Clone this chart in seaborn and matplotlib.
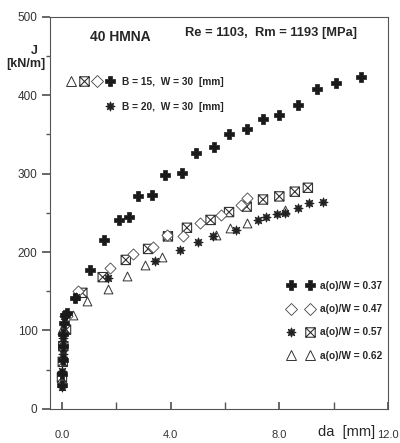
import matplotlib
matplotlib.use("Agg")
import matplotlib.pyplot as plt
from matplotlib.path import Path
from matplotlib.lines import Line2D
from matplotlib.legend_handler import HandlerTuple
import seaborn as sns
import pandas as pd

sns.set_theme(style="white")
plt.rcParams['font.family'] = ['Liberation Sans', 'DejaVu Sans']

# a(o)/W = 0.37, B = 15 (plus)
da_037 = [0.0, 0.02, 0.03, 0.04, 0.05, 0.06, 0.1, 0.2, 0.48, 1.03, 1.55, 2.1, 2.45, 2.8, 3.3, 3.8, 4.4, 4.95, 5.6, 6.15, 6.8, 7.4, 8.0, 8.7, 9.4, 10.1, 11.0]
J_037 = [30, 45, 62, 80, 95, 110, 120, 122, 142, 177, 216, 241, 245, 271, 273, 298, 301, 326, 334, 350, 357, 370, 375, 388, 408, 416, 423]

# a(o)/W = 0.47, B = 15 (diamond)
da_047 = [0.05, 0.2, 0.6, 1.76, 2.6, 3.35, 3.85, 4.45, 5.07, 5.85, 6.6, 6.8]
J_047 = [95, 118, 150, 180, 198, 207, 222, 221, 237, 247, 260, 269]

# a(o)/W = 0.57, B = 15 (boxed x)
da_057a = [0.0, 0.03, 0.05, 0.15, 0.75, 1.5, 2.35, 3.17, 3.9, 4.6, 5.47, 6.15, 6.8, 7.4, 8.0, 8.57, 9.05]
J_057a = [40, 60, 80, 101, 148, 168, 190, 204, 220, 231, 241, 251, 258, 267, 271, 277, 282]

# a(o)/W = 0.57, B = 20 (star)
da_057b = [0.0, 0.02, 0.03, 0.05, 0.08, 0.5, 1.7, 3.42, 4.34, 5.0, 5.55, 6.4, 7.2, 7.5, 7.9, 8.2, 8.7, 9.1, 9.6]
J_057b = [28, 48, 70, 90, 118, 143, 167, 189, 203, 213, 221, 228, 241, 245, 249, 250, 256, 262, 264]

# a(o)/W = 0.62, B = 15 (triangle)
da_062 = [0.05, 0.4, 0.93, 1.7, 2.4, 3.05, 3.7, 5.66, 6.2, 6.8, 8.2]
J_062 = [105, 120, 137, 153, 170, 184, 194, 222, 231, 237, 254]

x_ticks = [0, 4, 8, 12]
x_ticklabels = ["0.0", "4.0", "8.0", "12.0"]
y_ticks = [0, 100, 200, 300, 400, 500]

boxx = Path([(-1, -1), (1, -1), (1, 1), (-1, 1), (-1, -1), (1, 1), (-1, 1), (1, -1)],
            [Path.MOVETO, Path.LINETO, Path.LINETO, Path.LINETO, Path.CLOSEPOLY,
             Path.LINETO, Path.MOVETO, Path.LINETO])

styles = {
    "0.62": dict(marker="^", s=40, facecolor="white", edgecolor="#333333", linewidth=0.7),
    "0.57a": dict(marker=boxx, s=45, facecolor="none", edgecolor="#333333", linewidth=0.8),
    "0.47": dict(marker="D", s=32, facecolor="white", edgecolor="#444444", linewidth=0.6),
    "0.57b": dict(marker=(8, 1, 0), s=45, facecolor="#222222", edgecolor="#222222", linewidth=0.6),
    "0.37": dict(marker="P", s=55, facecolor="#1a1a1a", edgecolor="#1a1a1a", linewidth=0.5),
}
series = {
    "0.62": (da_062, J_062),
    "0.57a": (da_057a, J_057a),
    "0.47": (da_047, J_047),
    "0.57b": (da_057b, J_057b),
    "0.37": (da_037, J_037),
}

fig = plt.figure(figsize=(4.0, 4.43), dpi=100)
ax = fig.add_axes([0.125, 0.077, 0.845, 0.885])

for key, (xs, ys) in series.items():
    df = pd.DataFrame({"da": xs, "J": ys})
    sns.scatterplot(data=df, x="da", y="J", ax=ax, zorder=3, **styles[key])

ax.set_xlim(-0.44, 12)
ax.set_ylim(0, 500)
ax.set_xticks(x_ticks)
ax.set_xticklabels(x_ticklabels)
ax.set_xticks([2, 6, 10], minor=True)
ax.set_yticks(y_ticks)
ax.set_yticks([50, 150, 250, 350, 450], minor=True)
ax.set_xlabel("")
ax.set_ylabel("")
for sp in ax.spines.values():
    sp.set_color("#555555")
    sp.set_linewidth(0.8)
ax.tick_params(axis="x", which="both", direction="in", length=5, pad=15,
               labelsize=8, labelcolor="#333333", color="#555555", bottom=True)
ax.tick_params(axis="y", which="major", direction="out", length=6, pad=3,
               labelsize=8.5, labelcolor="#333333", color="#555555", left=True)
ax.tick_params(axis="y", which="minor", direction="out", length=3, color="#555555", left=True)

fig.text(0.225, 0.917, "40 HMNA", fontsize=10, fontweight="bold", ha="left", va="center")
fig.text(0.463, 0.925, "Re = 1103,  Rm = 1193 [MPa]", fontsize=9.3, fontweight="bold",
         ha="left", va="center")
fig.text(0.085, 0.885, "J", fontsize=9, fontweight="bold", ha="center", va="center")
fig.text(0.065, 0.855, "[kN/m]", fontsize=9, fontweight="bold", ha="center", va="center")
fig.text(0.795, 0.025, "da  [mm]", fontsize=10.5, ha="left", va="center")


def handle(key, ms):
    st = styles[key]
    return Line2D([], [], linestyle="none", marker=st["marker"], markersize=ms,
                  markerfacecolor=st["facecolor"], markeredgecolor=st["edgecolor"],
                  markeredgewidth=st["linewidth"])


blank = Line2D([], [], linestyle="none", marker="")
h37, h47, h57a, h57b, h62 = (handle("0.37", 7.5), handle("0.47", 6), handle("0.57a", 6.8),
                            handle("0.57b", 6.8), handle("0.62", 6.5))

leg1 = ax.legend(handles=[(h62, h57a, h47, h37), (blank, blank, blank, h57b)],
                 labels=["B = 15,  W = 30  [mm]", "B = 20,  W = 30  [mm]"],
                 handler_map={tuple: HandlerTuple(ndivide=None, pad=0.3)},
                 loc="upper left", bbox_to_anchor=(0.02, 0.87), frameon=False,
                 handlelength=4.8, handletextpad=0.7, labelspacing=1.45,
                 prop={"size": 7.3, "weight": "bold"})
ax.add_artist(leg1)

leg2 = ax.legend(handles=[(h37, h37), (h47, h47), (h57b, h57a), (h62, h62)],
                 labels=["a(o)/W = 0.37", "a(o)/W = 0.47", "a(o)/W = 0.57", "a(o)/W = 0.62"],
                 handler_map={tuple: HandlerTuple(ndivide=None, pad=0.9)},
                 loc="lower right", bbox_to_anchor=(1.01, 0.1), frameon=False,
                 handlelength=2.9, handletextpad=0.5, labelspacing=1.3,
                 prop={"size": 7.3, "weight": "bold"})

fig.savefig("out.png", dpi=100)
